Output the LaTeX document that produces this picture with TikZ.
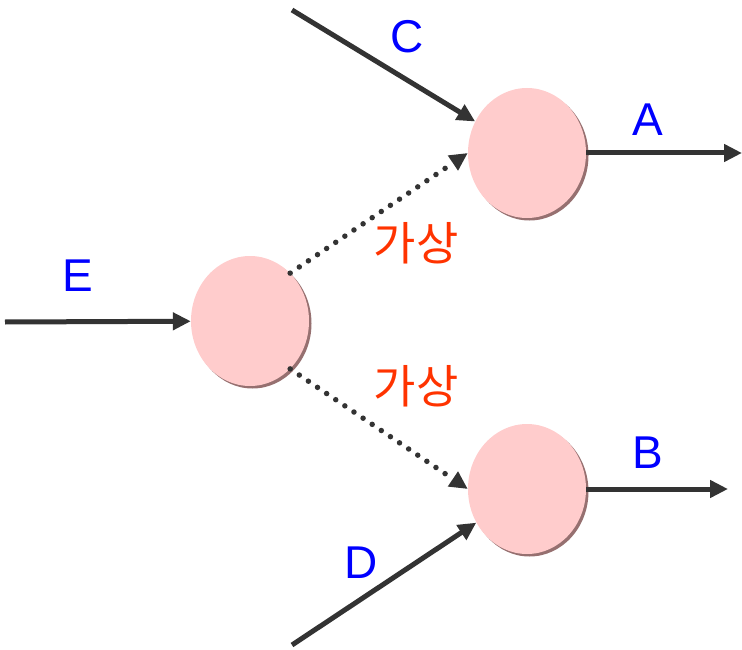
\documentclass[tikz,border=0pt]{standalone}
\usepackage{fontspec}
\setmainfont{Liberation Sans}
\newfontfamily\krfont{Noto Sans CJK KR}
\usepackage{xcolor}
\usetikzlibrary{shapes.geometric, arrows.meta, shadows}
\definecolor{cellpink}{RGB}{255,204,204}
\definecolor{cellshade}{RGB}{150,112,112}
\definecolor{linegray}{RGB}{51,51,51}
\definecolor{labelblue}{RGB}{0,0,255}
\definecolor{labelred}{RGB}{255,51,0}
\tikzstyle{cell} = [ellipse, minimum width=118pt, minimum height=130pt, inner sep=0pt, fill=cellpink, drop shadow={shadow xshift=2.5pt, shadow yshift=-2.5pt, fill=cellshade, opacity=1}]
\tikzstyle{flow} = [line width=5pt, draw=linegray, -{Triangle[length=18pt, width=17pt]}]
\tikzstyle{virtual} = [line width=5.5pt, draw=linegray, line cap=round, dash pattern=on 0pt off 11pt, -{Triangle[length=18pt, width=17pt, line cap=butt]}]
\tikzstyle{letter} = [text=labelblue, font=\fontsize{46}{50}\selectfont]
\tikzstyle{maybe} = [text=labelred, font=\krfont\fontsize{46}{50}\selectfont]

\begin{document}
\begin{tikzpicture}[x=1pt, y=-1pt]
\useasboundingbox (0,0) rectangle (742,650);

% cells
\node[cell] (split) at (250,321) {};
\node[cell] (upper) at (527,153) {};
\node[cell] (lower) at (527,489) {};

% free ends
\coordinate (ein) at (5,322);
\coordinate (cin) at (292,10);
\coordinate (din) at (292,645);
\coordinate (aout) at (742,153);
\coordinate (bout) at (728,489);

% flows
\draw[flow] (ein) -- (split);
\draw[flow] (cin) -- (upper);
\draw[flow] (din) -- (lower);
\draw[flow] (upper.east) -- (aout);
\draw[flow] (lower.east) -- (bout);

% virtual flows
\draw[virtual] (split.50) -- (upper.west);
\draw[virtual] (split.-50) -- (lower.west);

% labels
\node[letter] (elabel) at (78,276) {E};
\node[letter] (clabel) at (407,37) {C};
\node[letter] (alabel) at (648,120) {A};
\node[letter] (blabel) at (648,453) {B};
\node[letter] (dlabel) at (361,563) {D};
\node[maybe] (vup) at (416,243) {가상};
\node[maybe] (vdown) at (416,386) {가상};
\end{tikzpicture}
\end{document}
